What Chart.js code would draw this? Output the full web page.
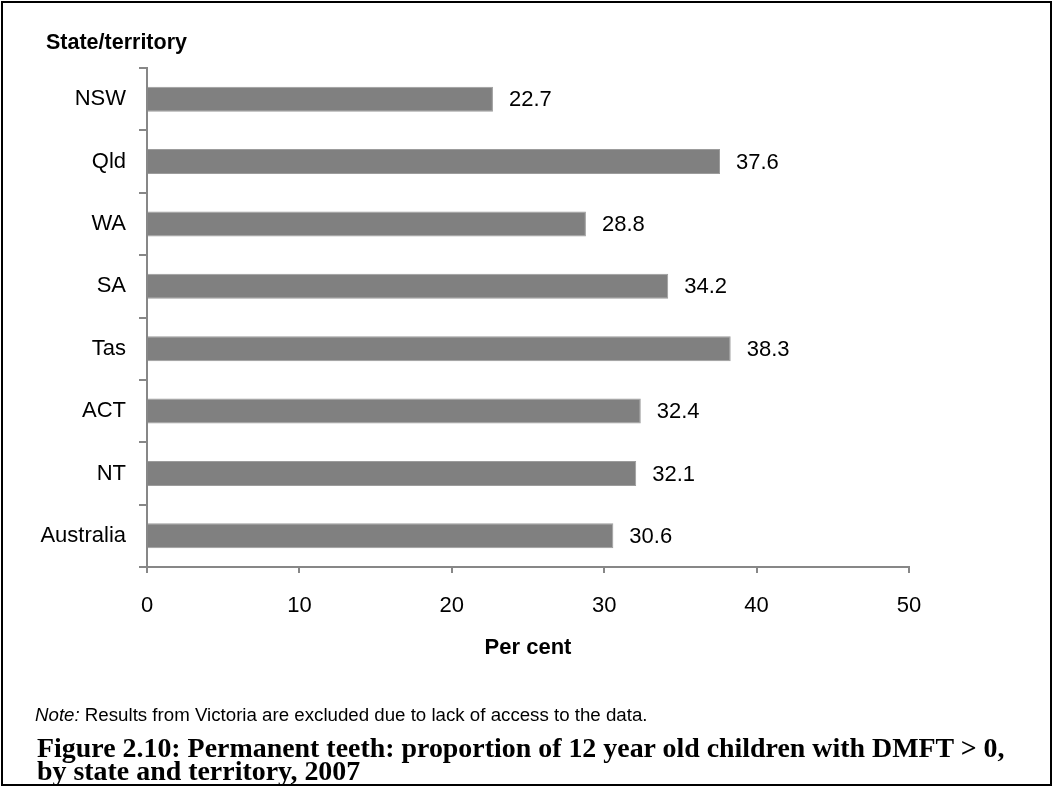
<!DOCTYPE html>
<html>
<head>
<meta charset="utf-8">
<script src="https://cdn.jsdelivr.net/npm/chart.js@4.4.1/dist/chart.umd.min.js"></script>
<style>
  html, body { margin: 0; padding: 0; background: #fff; }
  body { width: 1053px; height: 787px; position: relative; overflow: hidden; }
  #frame { position: absolute; left: 1px; top: 1px; width: 1051px; height: 785px;
           box-sizing: border-box; border: 2px solid #000; pointer-events: none; }
  #chart { position: absolute; left: 0; top: 0; }
  .note { position: absolute; left: 35px; top: 704px; font-family: "Liberation Sans", Arial, sans-serif;
          font-size: 18.7px; color: #000; white-space: nowrap; }
  .caption { position: absolute; left: 37px; top: 736px; font-family: "Liberation Serif", "Times New Roman", serif;
             font-weight: bold; font-size: 22px; line-height: 23px; color: #000; white-space: nowrap; }
</style>
</head>
<body>
<canvas id="chart" width="1053" height="787"></canvas>
<div class="note"><i>Note:</i> Results from Victoria are excluded due to lack of access to the data.</div>
<div class="caption" id="caption"><span id="cap1">Figure 2.10: Permanent teeth: proportion of 12 year old children with DMFT &gt; 0,</span><br><span>by state and territory, 2007</span></div>
<div id="frame"></div>
<script>
// Proportion of 12 year old children with DMFT > 0 (per cent)
const categories = ['NSW', 'Qld', 'WA', 'SA', 'Tas', 'ACT', 'NT', 'Australia'];
const percentValues = [22.7, 37.6, 28.8, 34.2, 38.3, 32.4, 32.1, 30.6];
const xTickValues = [0, 10, 20, 30, 40, 50];
const yAxisHeading = 'State/territory';
const xAxisHeading = 'Per cent';

const SANS = '"Liberation Sans", Arial, sans-serif';
const AXIS_GREY = '#878787';

// Fit the caption's first line to its column width
(function fitCaption() {
  const cap = document.getElementById('caption');
  const line = document.getElementById('cap1');
  const target = 968;
  const w = line.getBoundingClientRect().width;
  const size = 22 * target / w;
  cap.style.fontSize = size.toFixed(2) + 'px';
})();

// Value labels to the right of each bar, plus the category heading above the axis
const annotate = {
  id: 'annotate',
  afterDatasetsDraw(chart) {
    const ctx = chart.ctx;
    ctx.save();
    ctx.fillStyle = '#000';
    ctx.font = '22px ' + SANS;
    ctx.textAlign = 'left';
    ctx.textBaseline = 'middle';
    const meta = chart.getDatasetMeta(0);
    meta.data.forEach((bar, i) => {
      ctx.fillText(percentValues[i].toFixed(1), bar.x + 16, bar.y + 1);
    });
    ctx.font = 'bold 21.5px ' + SANS;
    ctx.textBaseline = 'alphabetic';
    ctx.fillText(yAxisHeading, 46, 49);
    ctx.restore();
  }
};

new Chart(document.getElementById('chart'), {
  type: 'bar',
  data: {
    labels: categories,
    datasets: [{
      data: percentValues,
      backgroundColor: '#808080',
      borderColor: '#9c9c9c',
      borderWidth: 1,
      categoryPercentage: 1,
      barPercentage: 0.4
    }]
  },
  options: {
    indexAxis: 'y',
    responsive: false,
    animation: false,
    devicePixelRatio: 1,
    layout: { padding: { left: 0, top: 68, right: 144, bottom: 120 } },
    plugins: { legend: { display: false }, tooltip: { enabled: false } },
    scales: {
      x: {
        type: 'linear',
        min: 0,
        max: 50,
        afterBuildTicks(scale) { scale.ticks = xTickValues.map(v => ({ value: v })); },
        afterFit(scale) { scale.height = 100; },
        grid: { display: true, drawOnChartArea: false, drawTicks: true, tickLength: 6,
                color: AXIS_GREY, lineWidth: 2 },
        border: { display: true, color: AXIS_GREY, width: 2 },
        ticks: { color: '#000', padding: 20, font: { family: SANS, size: 22 } },
        title: { display: true, text: xAxisHeading, color: '#000',
                 font: { family: SANS, size: 22, weight: 'bold' }, padding: { top: 0, bottom: 6 } }
      },
      y: {
        afterFit(scale) { scale.width = 147; },
        grid: { display: true, drawOnChartArea: false, drawTicks: true, tickLength: 8, offset: true,
                color: AXIS_GREY, lineWidth: 2 },
        border: { display: true, color: AXIS_GREY, width: 2 },
        ticks: { color: '#000', padding: 13, font: { family: SANS, size: 22 } }
      }
    }
  },
  plugins: [annotate]
});
</script>
</body>
</html>
